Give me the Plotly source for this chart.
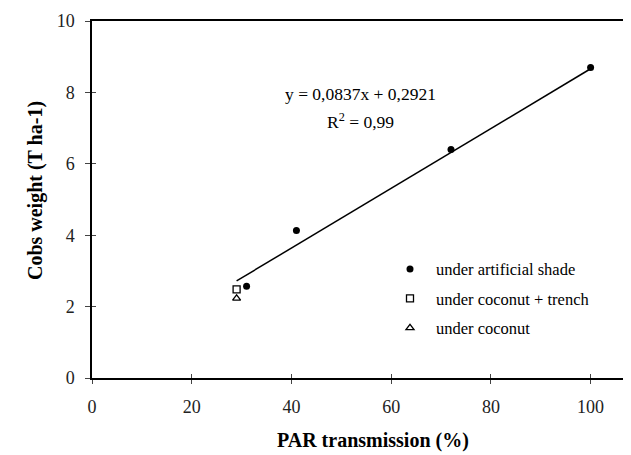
import plotly.graph_objects as go

# Data
artificial_x = [31, 41, 72, 100]
artificial_y = [2.57, 4.13, 6.4, 8.7]
trench_x = [29]
trench_y = [2.48]
coconut_x = [29]
coconut_y = [2.23]
slope = 0.0837
intercept = 0.2921
fit_x = [29, 100]
fit_y = [slope * v + intercept for v in fit_x]
x_ticks = [0, 20, 40, 60, 80, 100]
y_ticks = [0, 2, 4, 6, 8, 10]

SERIF = "Liberation Serif"
# page body has an 8px margin; the figure div is offset by it
OFF = 8
L, R, T, B = 92 - OFF, 3, 19 - OFF, 77
W, H = 631 - OFF, 455 - OFF

fig = go.Figure()

fig.add_trace(go.Scatter(x=fit_x, y=fit_y, mode="lines",
                         line=dict(color="black", width=1.5), showlegend=False, hoverinfo="skip"))
fig.add_trace(go.Scatter(x=artificial_x, y=artificial_y, mode="markers", name="under artificial shade",
                         legendgroup="a",
                         marker=dict(symbol="circle", size=7, color="black")))
fig.add_trace(go.Scatter(x=trench_x, y=trench_y, mode="markers", name="under coconut + trench",
                         legendgroup="b",
                         marker=dict(symbol="square-open", size=7, color="black", line=dict(width=1.3))))
fig.add_trace(go.Scatter(x=coconut_x, y=coconut_y, mode="markers", name="under coconut",
                         legendgroup="c",
                         marker=dict(symbol="triangle-up-open", size=7, color="black", line=dict(width=1.3))))
# dummy trace so the overlay axes (inner half of the crossing ticks) are drawn
fig.add_trace(go.Scatter(x=[None], y=[None], xaxis="x2", yaxis="y2", showlegend=False, hoverinfo="skip"))

pw, ph = W - L - R, H - T - B

fig.update_layout(
    width=W, height=H,
    margin=dict(l=L, r=R, t=T, b=B),
    paper_bgcolor="white", plot_bgcolor="white",
    font=dict(family=SERIF, size=17, color="black"),
    xaxis=dict(range=[0, 107.5], tickvals=x_ticks, ticks="outside", ticklen=4, tickwidth=1.2,
               showline=True, linecolor="black", linewidth=1.5, mirror=True, showgrid=False,
               zeroline=False, ticklabelstandoff=8,
               tickfont=dict(size=18, family=SERIF, color="#222")),
    yaxis=dict(range=[0, 10], tickvals=y_ticks, ticks="outside", ticklen=5, tickwidth=1.2,
               showline=True, linecolor="black", linewidth=1.5, showgrid=False,
               zeroline=False, ticklabelstandoff=7,
               tickfont=dict(size=18, family=SERIF, color="#222")),
    xaxis2=dict(range=[0, 107.5], tickvals=x_ticks, ticks="inside", ticklen=4, tickwidth=1.2,
                overlaying="x", showticklabels=False, showline=False, showgrid=False, zeroline=False),
    yaxis2=dict(range=[0, 10], tickvals=y_ticks[:-1], ticks="inside", ticklen=4, tickwidth=1.2,
                overlaying="y", showticklabels=False, showline=False, showgrid=False, zeroline=False),
    legend=dict(x=(384 - 92) / pw, y=1 - (251 - 19) / ph, xanchor="left", yanchor="top",
                bgcolor="rgba(0,0,0,0)",
                font=dict(size=16.5, family=SERIF), tracegroupgap=5, itemwidth=42),
    showlegend=True,
)

def px_annot(text, x, y, size, angle=0):
    fig.add_annotation(text=text, xref="paper", yref="paper",
                       x=(x - 92) / pw, y=1 - (y - 19) / ph,
                       xanchor="center", yanchor="middle", showarrow=False, textangle=angle,
                       font=dict(size=size, family=SERIF, color="black"))

px_annot("y = 0,0837x + 0,2921", 360, 92, 17.5)
px_annot("R<sup>2</sup> = 0,99", 360, 120, 17.5)
px_annot("<b>PAR transmission (%)</b>", 373, 441, 20)
px_annot("<b>Cobs weight (T ha-1)</b>", 35, 190, 20, angle=-90)

fig.write_html("out.html")
